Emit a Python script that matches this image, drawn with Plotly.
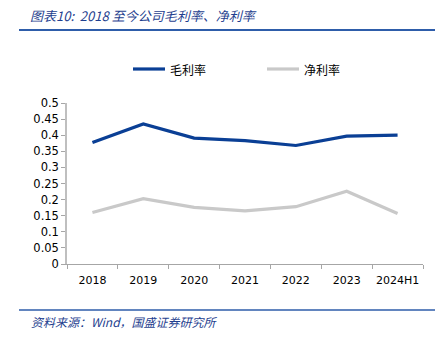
import plotly.graph_objects as go

categories = ["2018", "2019", "2020", "2021", "2022", "2023", "2024H1"]
gross_margin = [0.377, 0.435, 0.391, 0.383, 0.368, 0.397, 0.400]
net_margin = [0.160, 0.203, 0.176, 0.165, 0.178, 0.226, 0.157]
y_ticks = [0, 0.05, 0.1, 0.15, 0.2, 0.25, 0.3, 0.35, 0.4, 0.45, 0.5]
y_labels = ["0", "0.05", "0.1", "0.15", "0.2", "0.25", "0.3", "0.35", "0.4", "0.45", "0.5"]

W, H = 446, 345
L, R, T, B = 67, 23, 103, 81
pw, ph = W - L - R, H - T - B

def px(x):
    return (x - L) / pw

def py(y):
    return (H - B - y) / ph

fig = go.Figure()
fig.add_trace(go.Scatter(x=categories, y=gross_margin, mode="lines", name="毛利率",
                         line=dict(color="#0A3F95", width=3.2)))
fig.add_trace(go.Scatter(x=categories, y=net_margin, mode="lines", name="净利率",
                         line=dict(color="#C9C9C9", width=3.2)))

fig.update_layout(
    width=W, height=H, autosize=False,
    margin=dict(l=L, r=R, t=T, b=B),
    paper_bgcolor="white", plot_bgcolor="white",
    font=dict(family="DejaVu Sans", size=12, color="#000000"),
    showlegend=False,
    xaxis=dict(type="category", range=[-0.5, 6.5], showgrid=False, showline=True,
               linecolor="#A6A6A6", linewidth=1, ticks="outside", tickson="boundaries",
               ticklen=4, tickcolor="#A6A6A6", tickfont=dict(size=11), tickangle=0,
               ticklabelstandoff=6, zeroline=False),
    yaxis=dict(range=[0, 0.5], tickvals=y_ticks, ticktext=y_labels, showgrid=False,
               showline=True, linecolor="#BFBFBF", linewidth=1.5, ticks="outside",
               ticklen=4, tickcolor="#A6A6A6", tickfont=dict(size=11.5), zeroline=False),
)

# legend drawn manually
for x0, color, label in [(133, "#0A3F95", "毛利率"), (267, "#C9C9C9", "净利率")]:
    fig.add_shape(type="line", xref="paper", yref="paper", x0=px(x0), x1=px(x0 + 32),
                  y0=py(69), y1=py(69), line=dict(color=color, width=3.2))
    fig.add_annotation(xref="paper", yref="paper", x=px(x0 + 35), y=py(69), text=label,
                       showarrow=False, xanchor="left", yanchor="middle",
                       font=dict(family="Noto Sans CJK SC", size=12, color="#000000"))

# title
fig.add_annotation(xref="paper", yref="paper", x=px(28), y=py(15),
                   text="<i>图表10:  2018 至今公司毛利率、净利率</i>", showarrow=False,
                   xanchor="left", yanchor="middle",
                   font=dict(family="Noto Sans CJK SC", size=13, color="#1F3F8F"))
fig.add_shape(type="line", xref="paper", yref="paper", x0=px(19), x1=px(435),
              y0=py(30), y1=py(30), line=dict(color="#2E5DAA", width=2))

# footer
fig.add_shape(type="line", xref="paper", yref="paper", x0=px(19), x1=px(435),
              y0=py(310), y1=py(310), line=dict(color="#2E5DAA", width=1.5))
fig.add_annotation(xref="paper", yref="paper", x=px(29), y=py(321),
                   text="<i>资料来源：Wind，国盛证券研究所</i>", showarrow=False,
                   xanchor="left", yanchor="middle",
                   font=dict(family="Noto Sans CJK SC", size=12, color="#1F3F8F"))

fig.write_html("out.html")
